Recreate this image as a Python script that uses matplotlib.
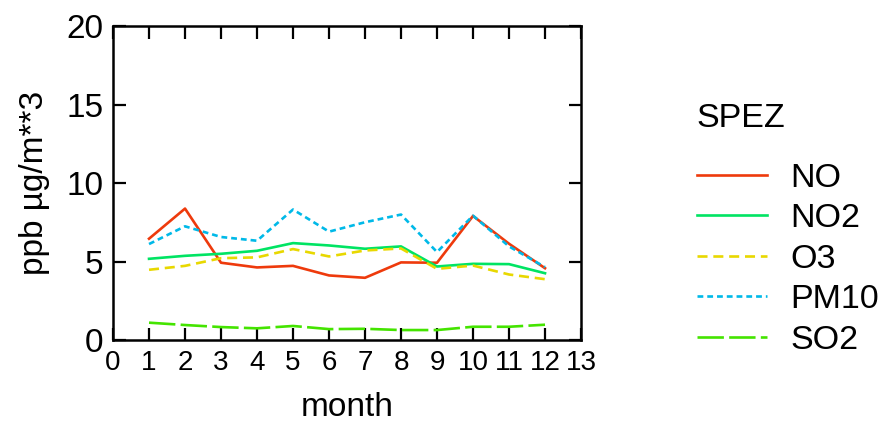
import matplotlib
matplotlib.use('Agg')
import matplotlib.pyplot as plt

plt.rcParams['font.family'] = ['Liberation Sans', 'DejaVu Sans']

# monthly means per species
months = [1, 2, 3, 4, 5, 6, 7, 8, 9, 10, 11, 12]
no = [6.46, 8.38, 4.93, 4.63, 4.73, 4.12, 3.97, 4.95, 4.93, 7.91, 6.14, 4.58]
no2 = [5.18, 5.37, 5.50, 5.69, 6.18, 6.03, 5.82, 5.97, 4.69, 4.86, 4.84, 4.26]
o3 = [4.48, 4.73, 5.22, 5.27, 5.80, 5.33, 5.71, 5.84, 4.54, 4.75, 4.18, 3.88]
pm10 = [6.12, 7.25, 6.57, 6.33, 8.32, 6.91, 7.51, 8.00, 5.61, 7.93, 5.97, 4.65]
so2 = [1.11, 0.96, 0.83, 0.75, 0.90, 0.70, 0.72, 0.64, 0.64, 0.85, 0.85, 0.98]

series = [
    ('NO', no, '#ee3a0c', '-'),
    ('NO2', no2, '#00e463', '-'),
    ('O3', o3, '#e8d800', (0, (3.8, 2.2))),
    ('PM10', pm10, '#00b9e8', (0, (2.2, 1.5))),
    ('SO2', so2, '#44e400', (0, (10, 2.0))),
]

fig = plt.figure(figsize=(8.83, 4.23), dpi=100)
ax = fig.add_axes([0.128, 0.196, 0.53, 0.742])

for name, vals, col, ls in series:
    ax.plot(months, vals, color=col, linestyle=ls, linewidth=1.9, label=name)

ax.set_xlim(0, 13)
ax.set_ylim(0, 20)
ax.set_xticks(range(0, 14))
ax.set_yticks([0, 5, 10, 15, 20])
ax.tick_params(axis='x', direction='in', length=9, width=1.6, top=True,
               labelsize=20, pad=7)
ax.tick_params(axis='y', direction='in', length=9, width=1.6, right=True,
               labelsize=24, pad=7)
for sp in ax.spines.values():
    sp.set_linewidth(1.8)

ax.set_xlabel('month', fontsize=24, labelpad=12)
ax.set_ylabel('ppb µg/m**3', fontsize=24, labelpad=12)

leg = ax.legend(title='SPEZ', loc='upper left', bbox_to_anchor=(1.218, 0.80),
                frameon=False, fontsize=24.5, title_fontsize=24.5,
                handlelength=2.07, handletextpad=0.69, labelspacing=0.28,
                alignment='left', borderaxespad=0)
leg._legend_box.sep = 21

fig.savefig('out.png', dpi=100)
